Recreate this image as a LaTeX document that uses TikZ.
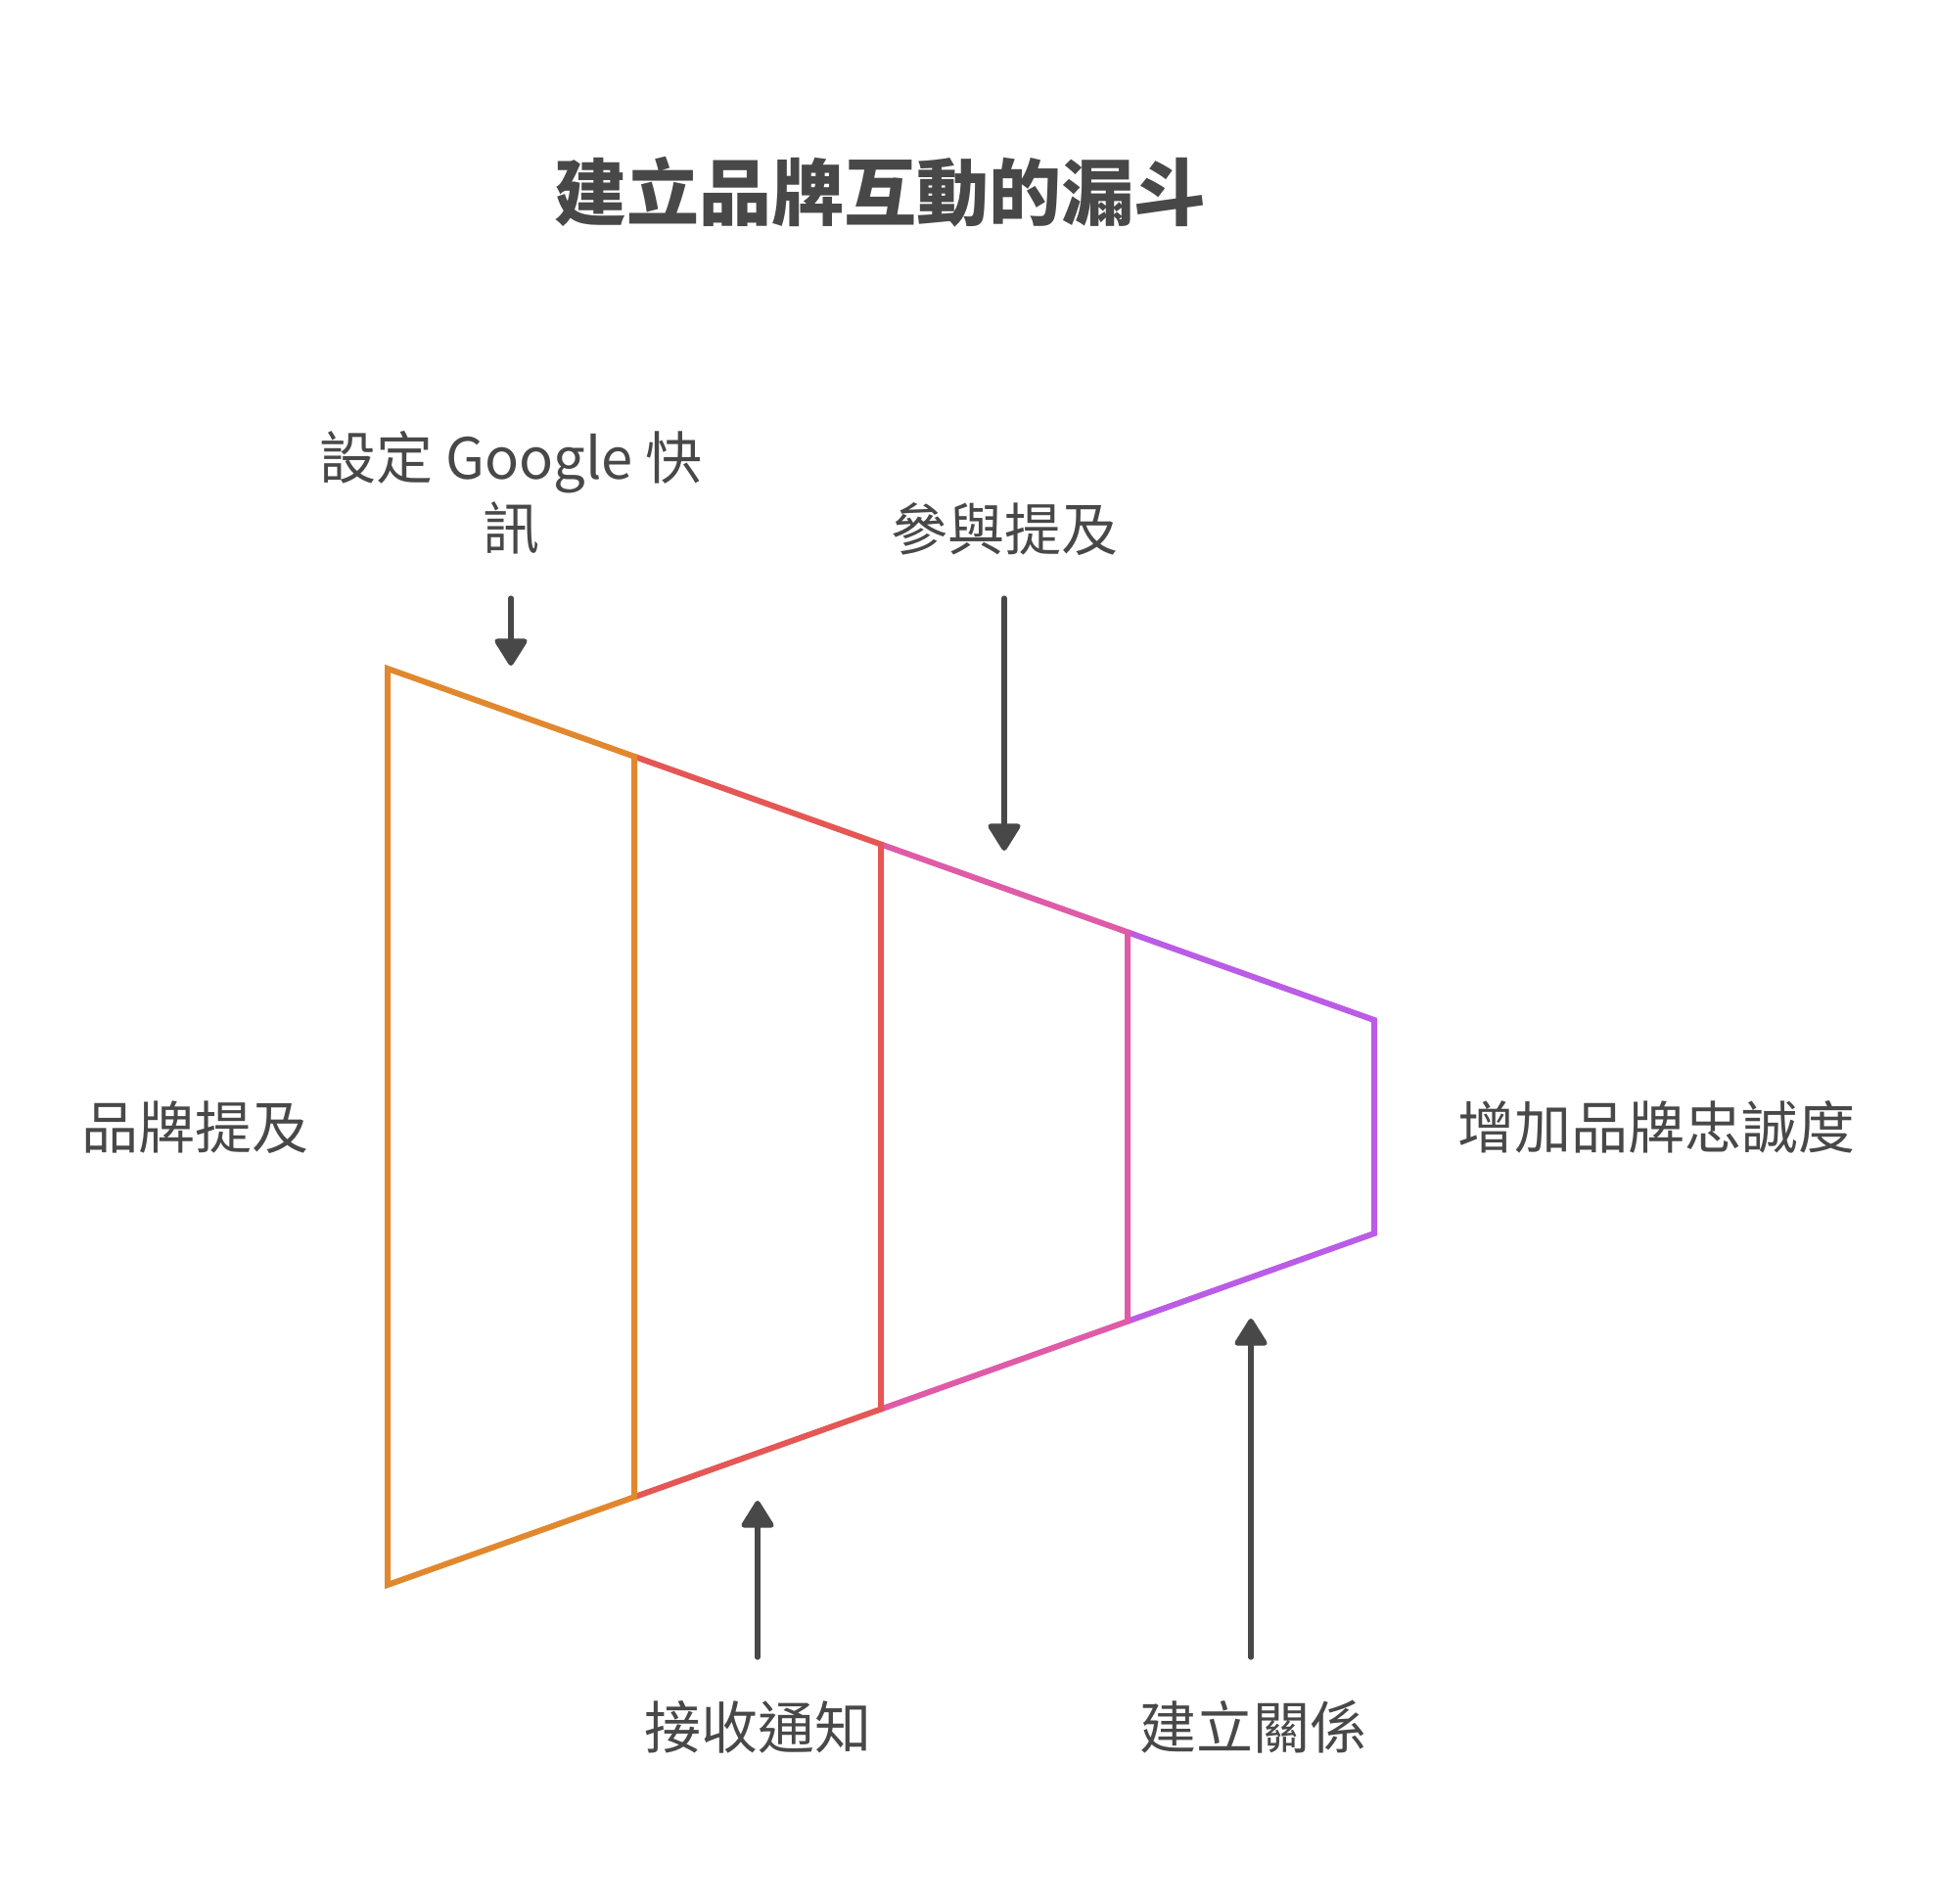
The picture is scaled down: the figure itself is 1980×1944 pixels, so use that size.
\documentclass[tikz,border=0pt]{standalone}
\usepackage{fontspec}
\setmainfont{Noto Sans CJK TC}
\usetikzlibrary{arrows.meta}
\definecolor{txt}{HTML}{484848}
\definecolor{c1}{HTML}{E1882F}
\definecolor{c2}{HTML}{E55755}
\definecolor{c3}{HTML}{DF5BA8}
\definecolor{c4}{HTML}{BA5CE6}
\tikzset{
  lbl/.style={text=txt, inner sep=0pt, anchor=base, align=center,
    font=\fontsize{29pt}{36pt}\selectfont},
  ttl/.style={text=txt, inner sep=0pt, anchor=base,
    font=\fontsize{37pt}{44pt}\selectfont\bfseries},
  seg/.style={line width=3pt, line join=miter},
  pointer/.style={draw=txt, line width=2.6pt, line cap=round,
    -{Triangle[length=15pt,width=18pt,round]}},
}
\begin{document}
\begin{tikzpicture}[x=0.5pt,y=-0.5pt]
\useasboundingbox (0,0) rectangle (1980,1944);
\fill[white] (0,0) rectangle (1980,1944);

% title
\node[ttl] (title) at (899,224) {建立品牌互動的漏斗};

% funnel corners
\coordinate (t0) at (396,683);   \coordinate (b0) at (396,1619);
\coordinate (t1) at (648,772.75);\coordinate (b1) at (648,1529.25);
\coordinate (t2) at (900,862.5); \coordinate (b2) at (900,1439.5);
\coordinate (t3) at (1152,952.25);\coordinate (b3) at (1152,1349.75);
\coordinate (t4) at (1404,1042); \coordinate (b4) at (1404,1260);

\draw[seg, draw=c4] (t3) -- (t4) -- (b4) -- (b3);
\draw[seg, draw=c3] (t2) -- (t3) -- (b3) -- (b2);
\draw[seg, draw=c2] (t1) -- (t2) -- (b2) -- (b1);
\draw[seg, draw=c1] (t1) -- (t0) -- (b0) -- (b1) -- cycle;

% labels
\node[lbl] (lLeft) at (199,1173) {品牌提及};
\node[lbl] (lRight) at (1692,1173) {增加品牌忠誠度};
\node[lbl] (lGoogle) at (522,561) {設定 Google 快\\訊};
\node[lbl] (lEngage) at (1026,562) {參與提及};
\node[lbl] (lNotify) at (774,1786) {接收通知};
\node[lbl] (lRelate) at (1280,1786) {建立關係};

% arrows
\coordinate (a1s) at (522,611);  \coordinate (a1e) at (522,680);
\coordinate (a2s) at (1026,611); \coordinate (a2e) at (1026,869);
\coordinate (a3s) at (774,1693); \coordinate (a3e) at (774,1533);
\coordinate (a4s) at (1278,1693);\coordinate (a4e) at (1278,1347);
\draw[pointer] (a1s) -- (a1e);
\draw[pointer] (a2s) -- (a2e);
\draw[pointer] (a3s) -- (a3e);
\draw[pointer] (a4s) -- (a4e);
\end{tikzpicture}
\end{document}
